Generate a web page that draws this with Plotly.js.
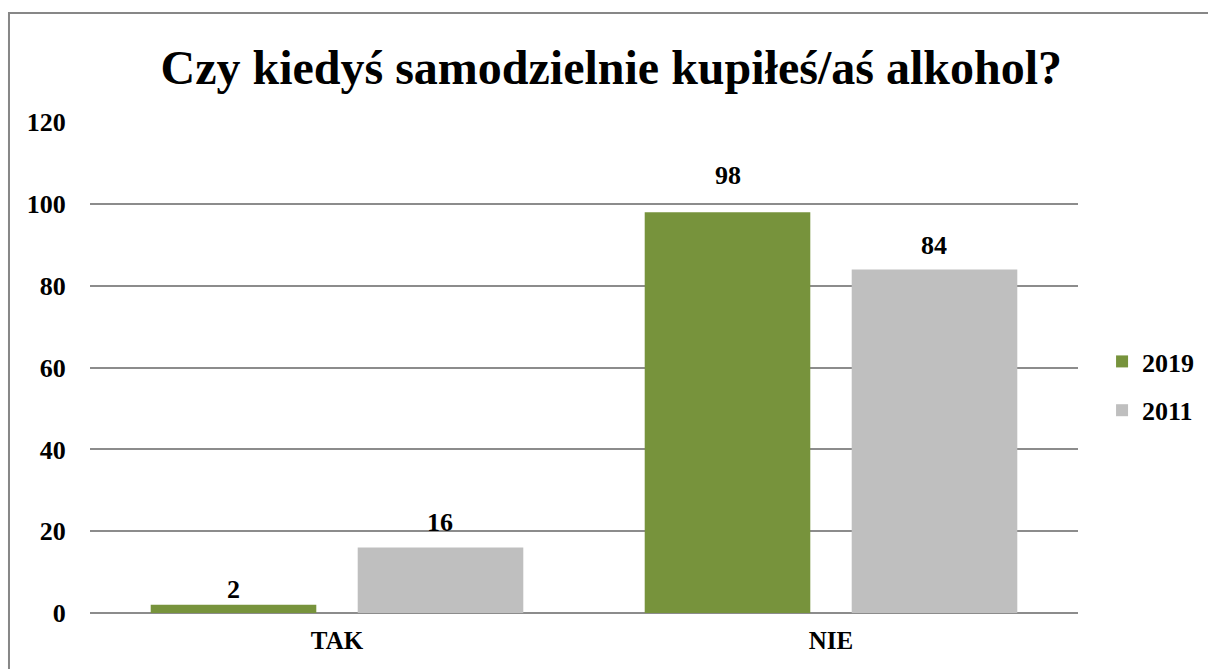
<!DOCTYPE html>
<html>
<head>
<meta charset="utf-8">
<script src="https://cdn.plot.ly/plotly-3.0.1.min.js"></script>
<style>html,body{margin:0;padding:0;background:#fff;}#chart{width:1208px;height:669px;}</style>
</head>
<body>
<div id="chart"></div>
<script>
const categories = ["TAK", "NIE"];
const values2019 = [2, 98];
const values2011 = [16, 84];
const seriesNames = ["2019", "2011"];
const yTicks = [0, 20, 40, 60, 80, 100, 120];

const FONT = "Liberation Serif";
const colors = ["#77933C", "#BFBFBF"];
const allSeries = [values2019, values2011];
// per-label vertical offsets (px above bar top), styling only
const labelGap = [[15, 25], [37, 24]];

const traces = allSeries.map((vals, i) => ({
  type: "bar",
  name: "<b>" + seriesNames[i] + "</b>",
  legendgroup: seriesNames[i],
  x: categories,
  y: vals,
  marker: {color: colors[i]},
  hoverinfo: "x+y"
}));

const annotations = [];
allSeries.forEach((vals, s) => {
  vals.forEach((v, c) => {
    annotations.push({
      x: c + (s === 0 ? -0.2095 : 0.2095),
      y: v,
      xref: "x", yref: "y",
      text: "<b>" + v + "</b>",
      showarrow: false,
      yanchor: "middle",
      yshift: labelGap[c][s],
      font: {family: FONT, size: 26, color: "#000"}
    });
  });
});

const layout = {
  width: 1208, height: 669,
  paper_bgcolor: "#fff", plot_bgcolor: "#fff",
  margin: {l: 90, r: 130, t: 122, b: 56, autoexpand: false},
  title: {
    text: "<b>Czy kiedyś samodzielnie kupiłeś/aś alkohol?</b>",
    font: {family: FONT, size: 48, color: "#000"},
    x: 0.506, xref: "container", xanchor: "center",
    y: 0.9, yref: "container", yanchor: "middle"
  },
  barmode: "group",
  bargap: 0.162,
  bargroupgap: 0.2,
  showlegend: true,
  legend: {
    xref: "container", yref: "container",
    x: 0.9123, xanchor: "left", y: 0.423, yanchor: "middle",
    font: {family: FONT, size: 26, color: "#000"},
    itemwidth: 30, tracegroupgap: 12
  },
  xaxis: {
    type: "category",
    tickfont: {family: FONT, size: 25, color: "#000"},
    tickprefix: "<b>", ticksuffix: "</b>",
    showline: false, ticks: "", showgrid: false,
    ticklabelstandoff: 10,
    fixedrange: true
  },
  yaxis: {
    range: [0, 120.05],
    tickvals: yTicks,
    ticktext: yTicks.map(t => "<b>" + t + "</b>"),
    tickfont: {family: FONT, size: 26, color: "#000"},
    showgrid: true, gridcolor: "#8c8c8c", gridwidth: 2,
    zeroline: true, zerolinecolor: "#8c8c8c", zerolinewidth: 2,
    showline: false, ticks: "outside", ticklen: 18, tickcolor: "rgba(0,0,0,0)",
    fixedrange: true
  },
  annotations: annotations,
  shapes: [{
    type: "rect", xref: "paper", yref: "paper",
    x0: -0.082, x1: 1.2, y0: -0.2, y1: 1.222,
    line: {color: "#878787", width: 2}, fillcolor: "rgba(0,0,0,0)", layer: "below"
  }]
};

Plotly.newPlot("chart", traces, layout, {displayModeBar: false, staticPlot: true});
</script>
</body>
</html>
